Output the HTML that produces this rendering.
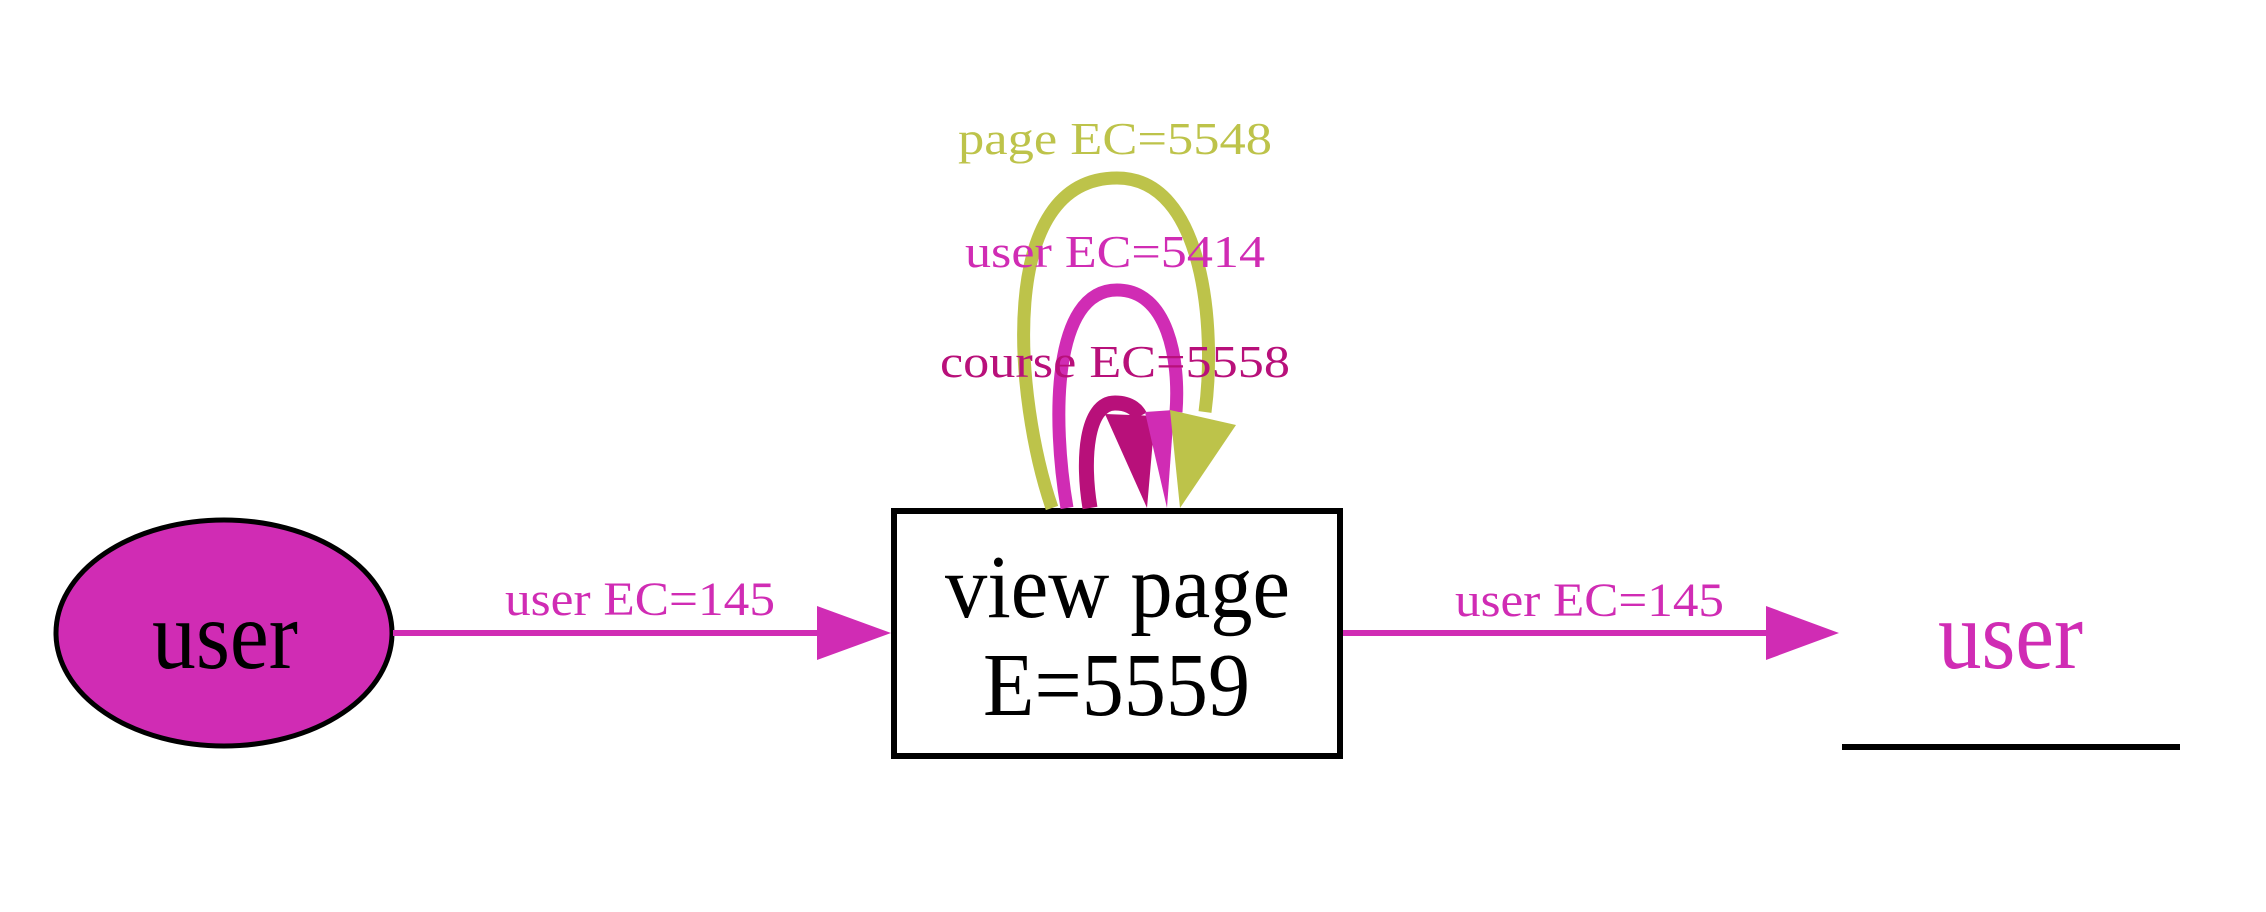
<!DOCTYPE html>
<html><head><style>html,body{margin:0;padding:0;background:#fff}svg{display:block}</style></head>
<body>
<svg width="2266" height="912" viewBox="0 0 2266 912" xmlns="http://www.w3.org/2000/svg" font-family="'Liberation Serif', serif">
<!-- left ellipse -->
<ellipse cx="224" cy="633" rx="168" ry="113" fill="#d02cb4" stroke="#000" stroke-width="5"/>
<text x="152" y="668" font-size="98" fill="#000" textLength="146" lengthAdjust="spacingAndGlyphs">user</text>
<!-- left edge -->
<line x1="393" y1="633" x2="820" y2="633" stroke="#d02cb4" stroke-width="6"/>
<polygon points="817,606 891,633 817,660" fill="#d02cb4"/>
<text x="505" y="615" font-size="48" fill="#d02cb4" textLength="270" lengthAdjust="spacingAndGlyphs">user EC=145</text>
<!-- box -->
<rect x="894" y="511" width="446" height="245" fill="#fff" stroke="#000" stroke-width="6"/>
<text x="945" y="617" font-size="90" textLength="345" lengthAdjust="spacingAndGlyphs">view page</text>
<text x="983" y="715" font-size="90" textLength="267" lengthAdjust="spacingAndGlyphs">E=5559</text>
<!-- loops -->
<path d="M1052,508 C1015,400 995,178 1117,178 C1205,178 1216,330 1205,412" fill="none" stroke="#bdc34a" stroke-width="13"/>
<path d="M1067,508 C1052,420 1052,290 1117,290 C1168,290 1180,360 1176,412" fill="none" stroke="#d02cb4" stroke-width="13"/>
<path d="M1090,508 C1082,460 1086,403 1115,403 C1132,403 1138,412 1140,416" fill="none" stroke="#b8107a" stroke-width="15"/>
<polygon points="1105,414 1155,416 1147,508" fill="#b8107a"/>
<polygon points="1145,412 1174,410 1167,508" fill="#d02cb4"/>
<polygon points="1170,410 1236,425 1180,508" fill="#bdc34a"/>
<text x="958" y="154" font-size="46" fill="#bdc34a" textLength="314" lengthAdjust="spacingAndGlyphs">page EC=5548</text>
<text x="965" y="267" font-size="46" fill="#d02cb4" textLength="300" lengthAdjust="spacingAndGlyphs">user EC=5414</text>
<text x="940" y="377" font-size="46" fill="#b8107a" textLength="350" lengthAdjust="spacingAndGlyphs">course EC=5558</text>
<!-- right edge -->
<line x1="1343" y1="633" x2="1770" y2="633" stroke="#d02cb4" stroke-width="6"/>
<polygon points="1766,606 1839,633 1766,660" fill="#d02cb4"/>
<text x="1455" y="616" font-size="48" fill="#d02cb4" textLength="269" lengthAdjust="spacingAndGlyphs">user EC=145</text>
<!-- right node -->
<text x="1938" y="668" font-size="98" fill="#d02cb4" textLength="145" lengthAdjust="spacingAndGlyphs">user</text>
<line x1="1842" y1="747" x2="2180" y2="747" stroke="#000" stroke-width="6"/>
</svg>
</body></html>
